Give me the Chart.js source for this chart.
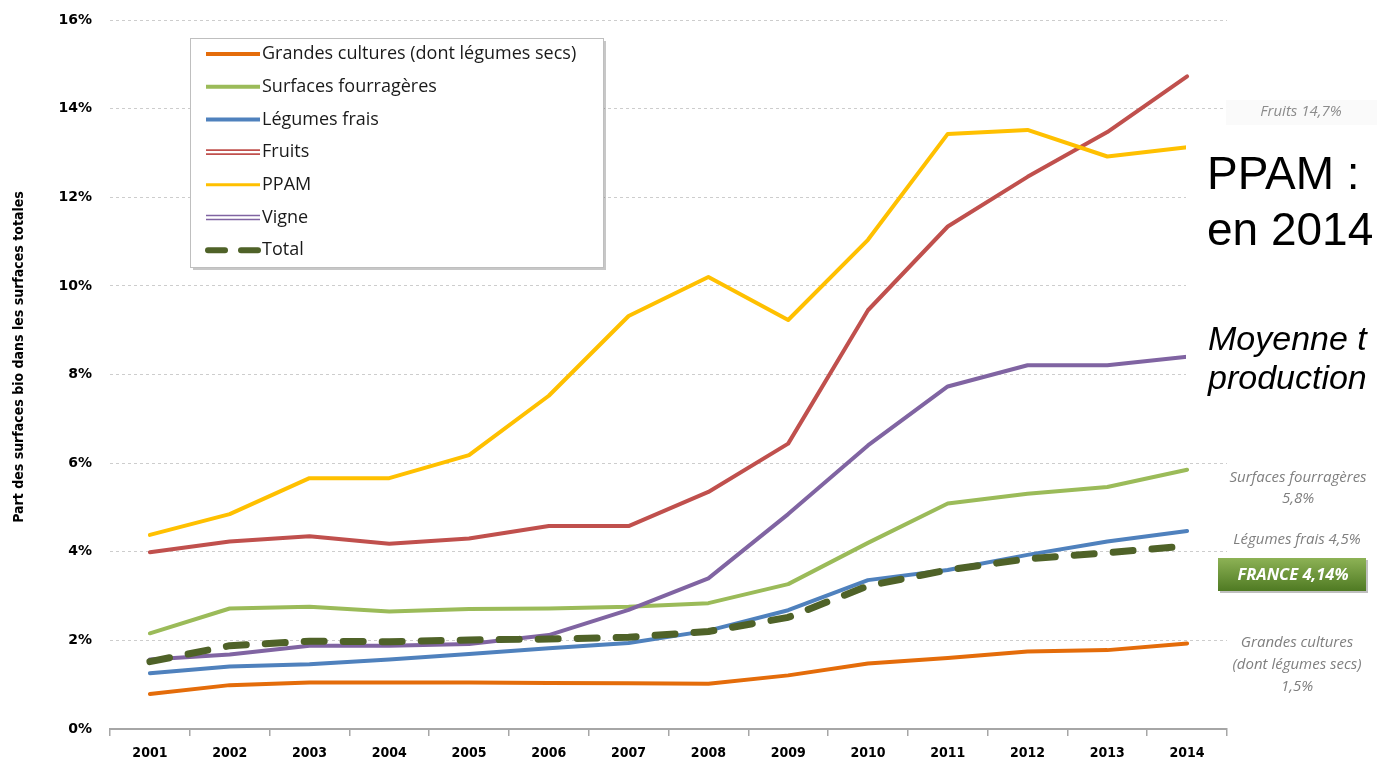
<!DOCTYPE html>
<html>
<head>
<meta charset="utf-8">
<script src="https://cdn.jsdelivr.net/npm/chart.js@4/dist/chart.umd.min.js"></script>
<style>
  html, body { margin: 0; padding: 0; background: #ffffff; }
  #wrap { position: relative; width: 1377px; height: 765px; }
</style>
</head>
<body>
<div id="wrap"><canvas id="c" width="1377" height="765"></canvas></div>
<script>
// ---- Data ----
const years = ['2001','2002','2003','2004','2005','2006','2007','2008','2009','2010','2011','2012','2013','2014'];
const grandesCultures = [0.79, 0.99, 1.05, 1.05, 1.05, 1.04, 1.03, 1.02, 1.21, 1.48, 1.60, 1.75, 1.78, 1.93];
const surfacesFourrageres = [2.16, 2.72, 2.76, 2.65, 2.71, 2.72, 2.76, 2.84, 3.27, 4.20, 5.09, 5.31, 5.46, 5.85];
const legumesFrais = [1.26, 1.41, 1.46, 1.57, 1.69, 1.82, 1.94, 2.22, 2.68, 3.36, 3.59, 3.93, 4.23, 4.47];
const fruits = [3.99, 4.23, 4.35, 4.18, 4.30, 4.58, 4.58, 5.35, 6.44, 9.45, 11.34, 12.46, 13.47, 14.73];
const ppam = [4.38, 4.85, 5.66, 5.66, 6.18, 7.52, 9.32, 10.20, 9.23, 11.04, 13.43, 13.52, 12.92, 13.13];
const vigne = [1.57, 1.68, 1.88, 1.88, 1.92, 2.12, 2.69, 3.40, 4.85, 6.40, 7.73, 8.21, 8.21, 8.40];
const total = [1.52, 1.88, 1.98, 1.97, 2.01, 2.03, 2.07, 2.20, 2.52, 3.23, 3.59, 3.84, 3.98, 4.13];
const seriesNames = ['Grandes cultures (dont légumes secs)', 'Surfaces fourragères', 'Légumes frais', 'Fruits', 'PPAM', 'Vigne', 'Total'];
const yAxisTitle = 'Part des surfaces bio dans les surfaces totales';
const rightLabels = {
  fruits: 'Fruits 14,7%',
  fourr1: 'Surfaces fourragères', fourr2: '5,8%',
  legumes: 'Légumes frais 4,5%',
  france: 'FRANCE 4,14%',
  gc1: 'Grandes cultures', gc2: '(dont légumes secs)', gc3: '1,5%'
};
const boxLines = ['PPAM :', 'en 2014', 'Moyenne t', 'production'];

// ---- Styles ----
const colors = ['#E46C0A', '#9BBB59', '#4F81BD', '#C0504D', '#FFC000', '#8064A2', '#4F6228'];
const seriesData = [grandesCultures, surfacesFourrageres, legumesFrais, fruits, ppam, vigne, total];
const legendStyles = ['solid', 'solid', 'solid', 'double', 'thin', 'double', 'dash'];

const datasets = seriesData.map((d, i) => ({
  label: seriesNames[i],
  data: d,
  borderColor: colors[i],
  backgroundColor: colors[i],
  borderWidth: i === 6 ? 7 : 4,
  borderDash: i === 6 ? [20, 19] : [],
  borderCapStyle: 'round',
  borderJoinStyle: 'round',
  pointRadius: 0,
  tension: 0,
  fill: false,
  order: i === 6 ? 0 : (i === 0 ? 7 : 7 - i + 1),
  legendStyle: legendStyles[i]
}));

const legendPlugin = {
  id: 'customLegend',
  afterDatasetsDraw(chart) {
    const ctx = chart.ctx;
    const x0 = 190, y0 = 38, w = 413, h = 229;
    ctx.save();
    ctx.fillStyle = 'rgba(0,0,0,0.22)';
    ctx.fillRect(x0 + 3, y0 + 3, w, h);
    ctx.fillStyle = '#ffffff';
    ctx.fillRect(x0, y0, w, h);
    ctx.strokeStyle = '#BFBFBF';
    ctx.lineWidth = 1;
    ctx.strokeRect(x0 + 0.5, y0 + 0.5, w, h);
    chart.data.datasets.forEach((ds, i) => {
      const cy = 54 + i * 32.7;
      const lx1 = 206, lx2 = 260;
      ctx.strokeStyle = ds.borderColor;
      ctx.setLineDash([]);
      ctx.lineCap = 'butt';
      if (ds.legendStyle === 'double') {
        ctx.lineWidth = 1.6;
        ctx.beginPath(); ctx.moveTo(lx1, cy - 2); ctx.lineTo(lx2, cy - 2); ctx.stroke();
        ctx.beginPath(); ctx.moveTo(lx1, cy + 2); ctx.lineTo(lx2, cy + 2); ctx.stroke();
      } else if (ds.legendStyle === 'dash') {
        ctx.lineWidth = 6;
        ctx.lineCap = 'round';
        ctx.beginPath(); ctx.moveTo(lx1 + 2, cy); ctx.lineTo(lx1 + 19, cy); ctx.stroke();
        ctx.beginPath(); ctx.moveTo(lx1 + 35, cy); ctx.lineTo(lx2 - 2, cy); ctx.stroke();
      } else if (ds.legendStyle === 'thin') {
        ctx.lineWidth = 3;
        ctx.beginPath(); ctx.moveTo(lx1, cy); ctx.lineTo(lx2, cy); ctx.stroke();
      } else {
        ctx.lineWidth = 4;
        ctx.beginPath(); ctx.moveTo(lx1, cy); ctx.lineTo(lx2, cy); ctx.stroke();
      }
      ctx.fillStyle = '#1a1a1a';
      ctx.font = '18px "Open Sans"';
      ctx.textBaseline = 'middle';
      ctx.textAlign = 'left';
      ctx.fillText(ds.label, 262, cy);
    });
    ctx.restore();
  }
};

const annotationPlugin = {
  id: 'annotations',
  afterDraw(chart) {
    const ctx = chart.ctx;
    ctx.save();
    // Y axis title
    ctx.save();
    ctx.translate(19, 357);
    ctx.rotate(-Math.PI / 2);
    ctx.fillStyle = '#000000';
    ctx.textAlign = 'center';
    ctx.textBaseline = 'middle';
    ctx.font = 'bold 14px "DejaVu Sans Condensed", "DejaVu Sans"';
    ctx.fillText(yAxisTitle, 0, 0);
    ctx.restore();

    ctx.fillStyle = '#FAFAFA';
    ctx.fillRect(1226, 100, 151, 25);
    ctx.fillStyle = '#8C8C8C';
    ctx.textAlign = 'center';
    ctx.textBaseline = 'middle';
    ctx.font = 'italic 15px "Open Sans"';
    ctx.fillText(rightLabels.fruits, 1301, 112);

    // White text box
    ctx.fillStyle = '#ffffff';
    ctx.fillRect(1186, 127, 191, 285);
    ctx.fillStyle = '#000000';
    ctx.textAlign = 'left';
    ctx.textBaseline = 'alphabetic';
    ctx.font = '46px "Liberation Sans", Arial, sans-serif';
    ctx.fillText(boxLines[0], 1207, 189);
    ctx.fillText(boxLines[1], 1207, 245);
    ctx.font = 'italic 34px "Liberation Sans", Arial, sans-serif';
    ctx.fillText(boxLines[2], 1208, 350);
    ctx.fillText(boxLines[3], 1208, 389);

    // Right-side gray labels
    ctx.fillStyle = '#7F7F7F';
    ctx.textAlign = 'center';
    ctx.textBaseline = 'middle';
    ctx.font = 'italic 15px "Open Sans"';
    ctx.fillText(rightLabels.fourr1, 1298, 478);
    ctx.fillText(rightLabels.fourr2, 1298, 499);
    ctx.fillText(rightLabels.legumes, 1297, 540);
    ctx.fillText(rightLabels.gc1, 1297, 643);
    ctx.fillText(rightLabels.gc2, 1297, 665);
    ctx.fillText(rightLabels.gc3, 1297, 687);

    // FRANCE box
    const g = ctx.createLinearGradient(0, 558, 0, 591);
    g.addColorStop(0, '#8DB255');
    g.addColorStop(1, '#4F7A23');
    ctx.fillStyle = 'rgba(0,0,0,0.25)';
    ctx.fillRect(1220, 560, 148, 33);
    ctx.fillStyle = g;
    ctx.fillRect(1218, 558, 148, 33);
    ctx.fillStyle = '#ffffff';
    ctx.font = 'italic bold 16.5px "Open Sans"';
    ctx.fillText(rightLabels.france, 1293, 575);
    ctx.restore();
  }
};

new Chart(document.getElementById('c'), {
  type: 'line',
  data: { labels: years, datasets },
  options: {
    responsive: false,
    animation: false,
    devicePixelRatio: 1,
    layout: { padding: { top: 20, right: 150, bottom: 0, left: 0 } },
    plugins: { legend: { display: false }, tooltip: { enabled: false } },
    scales: {
      x: {
        offset: true,
        grid: { offset: true, drawOnChartArea: false, drawTicks: true, tickLength: 7, color: '#A6A6A6', lineWidth: 1.5 },
        border: { display: true, color: '#A6A6A6', width: 2 },
        ticks: { color: '#000000', padding: 9, maxRotation: 0, autoSkip: false,
                 font: { family: '"DejaVu Sans Condensed", "DejaVu Sans"', weight: 'bold', size: 14 } },
        afterFit(scale) { scale.height = 36; }
      },
      y: {
        min: 0, max: 16,
        ticks: { stepSize: 2, padding: 18, color: '#000000',
                 font: { family: '"DejaVu Sans", sans-serif', weight: 'bold', size: 14 },
                 callback: v => v + '%' },
        grid: { drawTicks: false, color: '#CDCDCD', lineWidth: 1 },
        border: { display: false, dash: [3, 3] },
        title: { display: false },
        afterFit(scale) { scale.width = 110; scale.paddingTop = 0; scale.paddingBottom = 0; }
      }
    }
  },
  plugins: [legendPlugin, annotationPlugin]
});
</script>
</body>
</html>
